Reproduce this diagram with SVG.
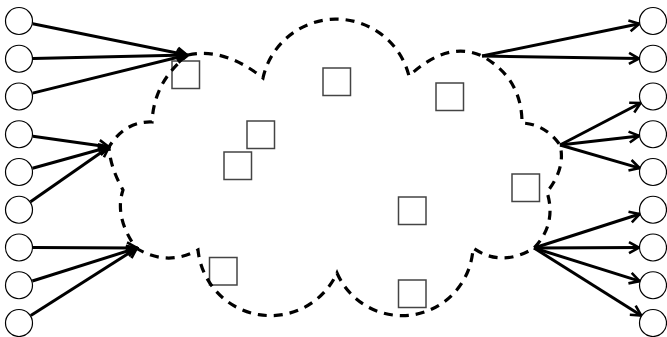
<svg xmlns="http://www.w3.org/2000/svg" width="667" height="337" viewBox="0 0 667 337">
  <style>
    .port { fill: #ffffff; stroke: #000000; stroke-width: 1.2; }
    .box { fill: none; stroke: #444444; stroke-width: 1.5; }
    .cloud { fill: none; stroke: #000000; stroke-width: 3.2; stroke-dasharray: 9 7; }
    .link { fill: none; stroke: #000000; stroke-width: 3; marker-end: url(#head); }
  </style>
  <defs>
    <marker id="head" markerUnits="userSpaceOnUse" markerWidth="14" markerHeight="14" viewBox="0 0 14 14" refX="12" refY="7" orient="auto">
      <path d="M2,1.5 L12,7 L2,12.5" fill="none" stroke="#000000" stroke-width="2.6" stroke-linejoin="miter"/>
    </marker>
  </defs>
  <rect width="667" height="337" fill="#ffffff"/>

  <!-- boxes inside the cloud -->
  <g id="box1"><rect class="box" x="172" y="61" width="27.5" height="27.5"/></g>
  <g id="box2"><rect class="box" x="323" y="68" width="27.5" height="27.5"/></g>
  <g id="box3"><rect class="box" x="436" y="83" width="27.5" height="27.5"/></g>
  <g id="box4"><rect class="box" x="247" y="121" width="27.5" height="27.5"/></g>
  <g id="box5"><rect class="box" x="224" y="152" width="27.5" height="27.5"/></g>
  <g id="box6"><rect class="box" x="398.5" y="197" width="27.5" height="27.5"/></g>
  <g id="box7"><rect class="box" x="512" y="174" width="27.5" height="27.5"/></g>
  <g id="box8"><rect class="box" x="209.5" y="257.5" width="27.5" height="27.5"/></g>
  <g id="box9"><rect class="box" x="398.5" y="280" width="27.5" height="27.5"/></g>

  <!-- dashed cloud boundary -->
  <g id="cloud">
    <path class="cloud" d="M188,55 Q224,47 263,78 A75,75 0 0 1 409,76 Q448,40 482,56 Q522,78 522,123 Q545,124 560,145 Q566,168 547,192 Q557,224 534,248 Q502,268 473,248 A71,71 0 0 1 337,273 A73,73 0 0 1 198,250 Q167,267 136,248 Q114,217 123,190 Q110,167 109,147 Q125,121 152,122 Q154,81 188,55"/>
  </g>

  <!-- connectors -->
  <g id="connectors">
    <line class="link" x1="32.7" y1="23.8" x2="187" y2="55"/>
    <line class="link" x1="33" y1="58.4" x2="187" y2="55"/>
    <line class="link" x1="32.6" y1="93.1" x2="187" y2="55"/>

    <line class="link" x1="32.9" y1="136.2" x2="109" y2="147"/>
    <line class="link" x1="32.5" y1="168.2" x2="109" y2="147"/>
    <line class="link" x1="30.5" y1="201.7" x2="109" y2="147"/>

    <line class="link" x1="33" y1="247.6" x2="137" y2="248"/>
    <line class="link" x1="32.4" y1="281" x2="137" y2="248"/>
    <line class="link" x1="30.8" y1="315.5" x2="137" y2="248"/>

    <line class="link" x1="482" y1="56" x2="639.3" y2="23.8"/>
    <line class="link" x1="482" y1="56" x2="639" y2="58.5"/>

    <line class="link" x1="560" y1="145" x2="640.6" y2="103"/>
    <line class="link" x1="560" y1="145" x2="639.1" y2="135.9"/>
    <line class="link" x1="560" y1="145" x2="639.6" y2="168.1"/>

    <line class="link" x1="534" y1="248" x2="639.7" y2="214"/>
    <line class="link" x1="534" y1="248" x2="639" y2="247.6"/>
    <line class="link" x1="534" y1="248" x2="639.6" y2="281.1"/>
    <line class="link" x1="534" y1="248" x2="641.2" y2="315.5"/>
  </g>

  <!-- left ports -->
  <g id="in1"><circle class="port" cx="19" cy="21" r="13.5"/></g>
  <g id="in2"><circle class="port" cx="19" cy="58.75" r="13.5"/></g>
  <g id="in3"><circle class="port" cx="19" cy="96.5" r="13.5"/></g>
  <g id="in4"><circle class="port" cx="19" cy="134.25" r="13.5"/></g>
  <g id="in5"><circle class="port" cx="19" cy="172" r="13.5"/></g>
  <g id="in6"><circle class="port" cx="19" cy="209.75" r="13.5"/></g>
  <g id="in7"><circle class="port" cx="19" cy="247.5" r="13.5"/></g>
  <g id="in8"><circle class="port" cx="19" cy="285.25" r="13.5"/></g>
  <g id="in9"><circle class="port" cx="19" cy="323" r="13.5"/></g>

  <!-- right ports -->
  <g id="out1"><circle class="port" cx="653" cy="21" r="13.5"/></g>
  <g id="out2"><circle class="port" cx="653" cy="58.75" r="13.5"/></g>
  <g id="out3"><circle class="port" cx="653" cy="96.5" r="13.5"/></g>
  <g id="out4"><circle class="port" cx="653" cy="134.25" r="13.5"/></g>
  <g id="out5"><circle class="port" cx="653" cy="172" r="13.5"/></g>
  <g id="out6"><circle class="port" cx="653" cy="209.75" r="13.5"/></g>
  <g id="out7"><circle class="port" cx="653" cy="247.5" r="13.5"/></g>
  <g id="out8"><circle class="port" cx="653" cy="285.25" r="13.5"/></g>
  <g id="out9"><circle class="port" cx="653" cy="323" r="13.5"/></g>
</svg>
